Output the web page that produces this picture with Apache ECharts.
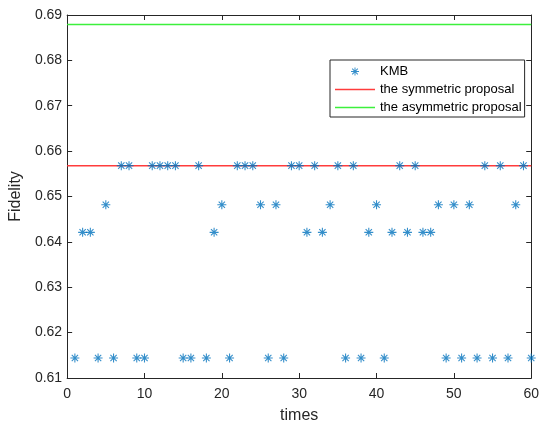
<!DOCTYPE html>
<html>
<head>
<meta charset="utf-8">
<script src="https://cdn.jsdelivr.net/npm/echarts@6/dist/echarts.min.js"></script>
<style>html,body{margin:0;padding:0;background:#fff}#c{width:542px;height:429px}</style>
</head>
<body>
<div id="c"></div>
<script>
var times = [1,2,3,4,5,6,7,8,9,10,11,12,13,14,15,16,17,18,19,20,21,22,23,24,25,26,27,28,29,30,31,32,33,34,35,36,37,38,39,40,41,42,43,44,45,46,47,48,49,50,51,52,53,54,55,56,57,58,59,60];
var kmb = [0.6144,0.6421,0.6421,0.6144,0.6482,0.6144,0.6568,0.6568,0.6144,0.6144,
           0.6568,0.6568,0.6568,0.6568,0.6144,0.6144,0.6568,0.6144,0.6421,0.6482,
           0.6144,0.6568,0.6568,0.6568,0.6482,0.6144,0.6482,0.6144,0.6568,0.6568,
           0.6421,0.6568,0.6421,0.6482,0.6568,0.6144,0.6568,0.6144,0.6421,0.6482,
           0.6144,0.6421,0.6568,0.6421,0.6568,0.6421,0.6421,0.6482,0.6144,0.6482,
           0.6144,0.6482,0.6144,0.6568,0.6144,0.6568,0.6144,0.6482,0.6568,0.6144];
var symmetricValue = 0.6568;
var asymmetricValue = 0.6879;
var lineX = [0, 60];
var seriesNames = ['KMB','the symmetric proposal','the asymmetric proposal'];

var starBody = 'M4.4 0L5.6 0L5.6 10L4.4 10Z M0 4.4L10 4.4L10 5.6L0 5.6Z M1.92 1.08L8.92 8.08L8.08 8.92L1.08 1.92Z M8.08 1.08L8.92 1.92L1.92 8.92L1.08 8.08Z';
var star = 'path://' + starBody;
var legendStar = 'path://M-2.5 -2.5L-2.5 -2.5Z M12.5 12.5L12.5 12.5Z ' + starBody;
var lineIcon = 'path://M0 0L40 0L40 1.5L0 1.5Z';
var axisColor = '#262626';
var font = 'Liberation Sans, Arial, sans-serif';

var chart = echarts.init(document.getElementById('c'), null, {renderer:'canvas'});
var option = {
  backgroundColor: '#fff',
  animation: false,
  grid: {left: 65, right: 7, top: 15, bottom: 44, show: false},
  xAxis: [{
    type: 'value', min: 0, max: 60, interval: 10,
    name: 'times', nameLocation: 'middle', nameGap: 30,
    nameTextStyle: {color: axisColor, fontSize: 16, fontFamily: font},
    axisLine: {show: true, onZero: false, lineStyle: {color: axisColor, width: 1}},
    axisTick: {show: true, inside: true, length: 5, lineStyle: {color: axisColor}},
    axisLabel: {color: axisColor, fontSize: 14, fontFamily: font, margin: 9},
    splitLine: {show: false}
  },{
    type: 'value', min: 0, max: 60, interval: 10, position: 'top',
    axisLine: {show: true, onZero: false, lineStyle: {color: axisColor, width: 1}},
    axisTick: {show: true, inside: true, length: 5, lineStyle: {color: axisColor}},
    axisLabel: {show: false}, splitLine: {show: false}
  }],
  yAxis: [{
    type: 'value', min: 0.61, max: 0.69, interval: 0.01,
    name: 'Fidelity', nameLocation: 'middle', nameGap: 35, nameRotate: 90,
    nameTextStyle: {color: axisColor, fontSize: 16, fontFamily: font},
    axisLine: {show: true, onZero: false, lineStyle: {color: axisColor, width: 1}},
    axisTick: {show: true, inside: true, length: 5, lineStyle: {color: axisColor}},
    axisLabel: {color: axisColor, fontSize: 14, fontFamily: font, margin: 5,
      formatter: function(v){ return v.toFixed(2); }},
    splitLine: {show: false}
  },{
    type: 'value', min: 0.61, max: 0.69, interval: 0.01, position: 'right',
    axisLine: {show: true, onZero: false, lineStyle: {color: axisColor, width: 1}},
    axisTick: {show: true, inside: true, length: 5, lineStyle: {color: axisColor}},
    axisLabel: {show: false}, splitLine: {show: false}
  }],
  legend: {
    orient: 'vertical', left: 330, top: 60,
    itemWidth: 40, itemHeight: 12, itemGap: 5,
    padding: [5, 3, 3, 5],
    borderColor: axisColor, borderWidth: 1, backgroundColor: '#fff',
    textStyle: {color: '#000', fontSize: 13, fontFamily: font},
    data: [
      {name: seriesNames[0], icon: legendStar},
      {name: seriesNames[1], icon: lineIcon},
      {name: seriesNames[2], icon: lineIcon}
    ]
  },
  series: [{
    name: seriesNames[0], type: 'scatter', symbol: star, symbolSize: 9,
    itemStyle: {color: '#0072BD'},
    data: times.map(function(t, i){ return [t, kmb[i]]; }),
    z: 3
  },{
    name: seriesNames[1], type: 'line', symbol: 'none',
    lineStyle: {color: '#ff3c3c', width: 1.5}, itemStyle: {color: '#ff3c3c'},
    data: lineX.map(function(x){ return [x, symmetricValue]; }), z: 2
  },{
    name: seriesNames[2], type: 'line', symbol: 'none',
    lineStyle: {color: '#3cf03c', width: 1.5}, itemStyle: {color: '#3cf03c'},
    data: lineX.map(function(x){ return [x, asymmetricValue]; }), z: 2
  }]
};
chart.setOption(option);
</script>
</body>
</html>
